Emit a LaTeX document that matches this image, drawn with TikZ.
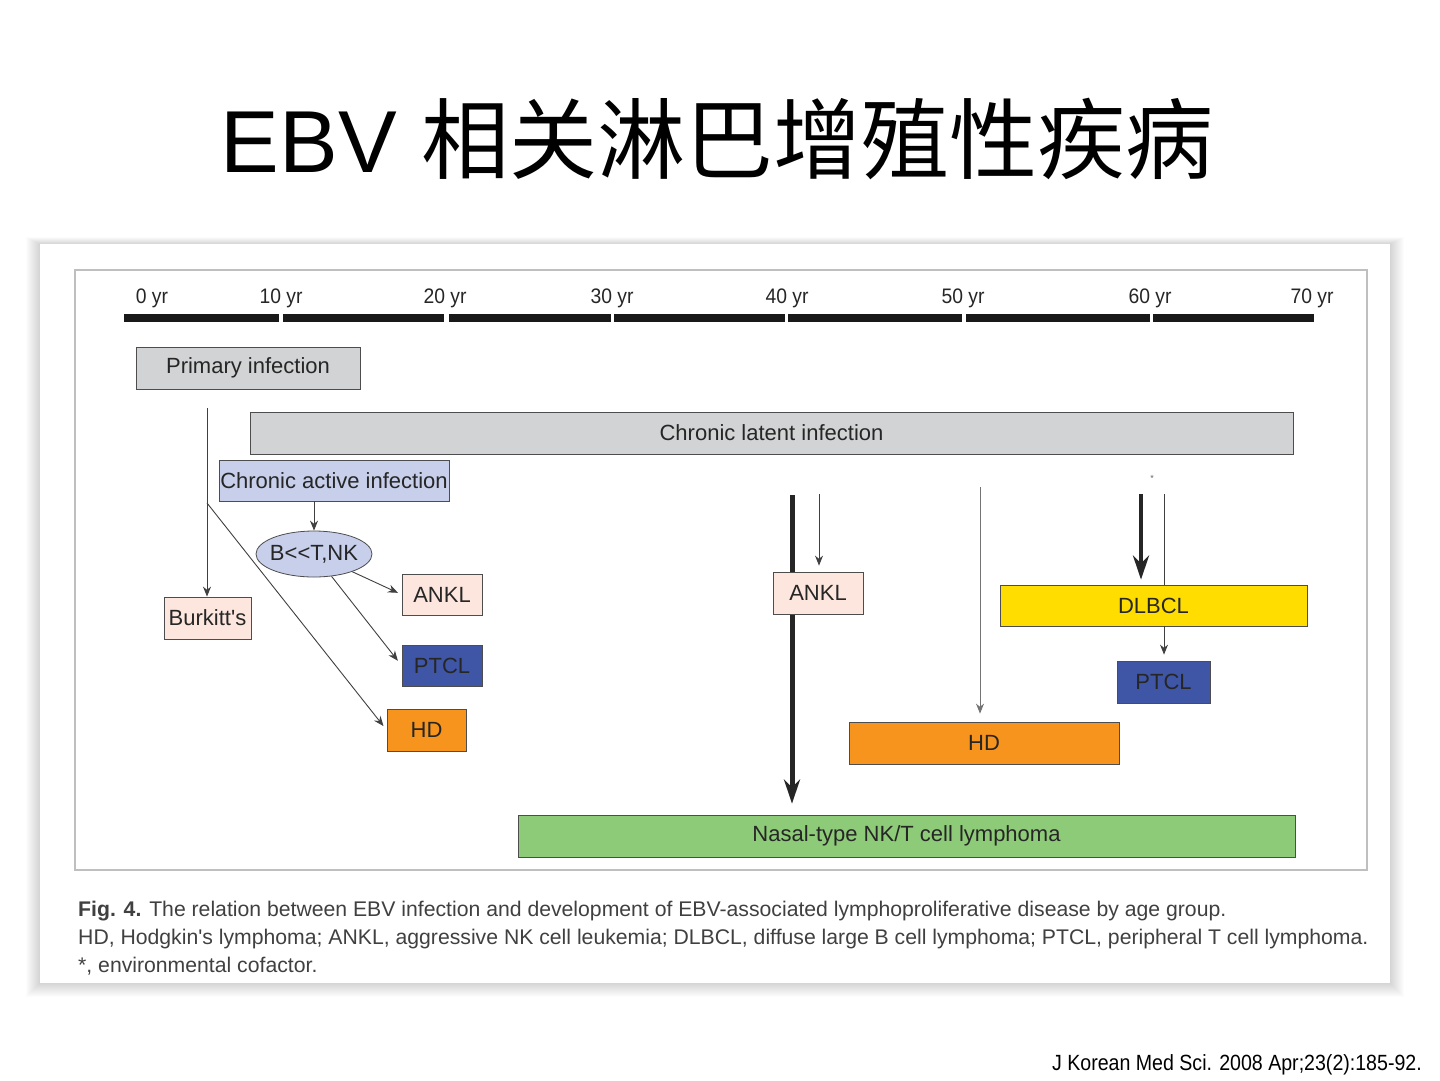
\documentclass[tikz,border=0pt]{standalone}
\usepackage{fontspec}
\setmainfont{Liberation Sans}
\newfontfamily\cjkfont{Noto Sans CJK SC}
\newfontfamily\tickfont{Liberation Sans}[FakeStretch=0.92]
\newfontfamily\narrowfont{Liberation Sans}[FakeStretch=0.89]
\usetikzlibrary{arrows.meta,shapes.geometric}

\definecolor{boxgray}{HTML}{D1D3D4}
\definecolor{lightblue}{HTML}{C7CFEA}
\definecolor{lightpink}{HTML}{FCE6DE}
\definecolor{darkblue}{HTML}{3F56A6}
\definecolor{orangebox}{HTML}{F7941D}
\definecolor{yellowbox}{HTML}{FFDD00}
\definecolor{greenbox}{HTML}{8DCB78}
\definecolor{edgegray}{HTML}{4D4D4D}

\tikzset{%
  every node/.style={
    inner sep=1pt
  },
  lbl/.style={font=\fontsize{22}{24}\selectfont, text=black!85},
  box/.style={lbl, draw=edgegray, line width=0.8pt, minimum height=42pt},
  tick/.style={font=\tickfont\fontsize{21}{23}\selectfont, text=black!85},
  capt/.style={font=\fontsize{21.2}{23}\selectfont, text=black!75},
  link/.style={draw=black!75, line width=0.9pt, -{Stealth[length=10pt,width=8pt]}},
  biglink/.style={draw=black!85, line width=5pt, -{Stealth[length=24pt,width=16pt]}}
}

\begin{document}
\begin{tikzpicture}[x=1pt,y=-1pt]
        \useasboundingbox (0,0) rectangle (1440,1080);
        \fill[white] (0,0) rectangle (1440,1080);
        \node[anchor=base, text=black] (title) at (717,172) {\fontsize{88}{90}\selectfont EBV \cjkfont 相关淋巴增殖性疾病};
        % figure panel
        \foreach \i in {1,...,14}
          \fill[black, opacity=0.012] (40-\i,244-\i/2) rectangle (1390+\i,983+\i);
        \fill[white] (40,244) rectangle (1390,983);
        \draw[black!25, line width=1.5pt] (75,270) rectangle (1367,870);
        % time axis
        \foreach \a/\b in {124/279, 283/444, 449/611, 614/785, 788/962, 966/1150, 1153/1314}
          \fill[black!90] (\a,314) rectangle (\b,322);
        \foreach \x/\t [count=\i] in {152/0, 281/10, 445/20, 612/30, 787/40, 963/50, 1150/60, 1312/70}
          \node[tick, anchor=base] (t\i) at (\x,303) {\t\ yr};
        % boxes
        \node[box, fill=boxgray, minimum width=224pt] (prim) at (248,368) {Primary infection};
        \node[box, fill=boxgray, minimum width=1043pt] (latent) at (771.5,433) {Chronic latent infection};
        \node[box, fill=lightblue, minimum width=230pt, minimum height=41pt] (active) at (334,480.5) {Chronic active infection};
        \node[lbl, ellipse, draw=edgegray, line width=0.8pt, fill=lightblue, minimum width=116pt, minimum height=46pt, inner xsep=-6pt, inner ysep=0pt] (btnk) at (314,554) {B{<}{<}T,NK};
        \node[box, fill=lightpink, minimum width=87pt] (burk) at (207.5,618) {Burkitt\textquotesingle s};
        \node[box, fill=lightpink, minimum width=80pt, minimum height=41pt] (ankl1) at (442,594.5) {ANKL};
        \node[box, fill=darkblue, minimum width=80pt, minimum height=41pt] (ptcl1) at (442,665.5) {PTCL};
        \node[box, fill=orangebox, minimum width=79pt] (hd1) at (426.5,730) {HD};
        \node[box, fill=yellowbox, minimum width=307pt, minimum height=41pt] (dlbcl) at (1153.5,605.5) {DLBCL};
        \node[box, fill=darkblue, minimum width=93pt] (ptcl2) at (1163.5,682) {PTCL};
        \node[box, fill=orangebox, minimum width=270pt] (hd2) at (984,743) {HD};
        \node[box, fill=greenbox, minimum width=777pt] (nasal) at (906.5,836) {Nasal-type NK/T cell lymphoma};
        \node[lbl, font=\fontsize{9}{10}\selectfont, text=black!60] (star) at (1152,478) {*};
        % arrows
        \coordinate (p0) at (207,408);
        \coordinate (br) at (207,503);
        \draw[link] (p0) -- (burk.north -| p0);
        \draw[link, shorten >=5pt] (br) -- (hd1.west);
        \draw[link] (active.south -| btnk) -- (btnk.north);
        \draw[link, shorten >=4pt] (btnk) -- (ankl1.west);
        \draw[link, shorten >=6pt] (btnk) -- (ptcl1.west);
        \coordinate (m0) at (792,495);
        \draw[biglink, shorten >=11pt] (m0) -- (m0 |- nasal.north);
        \node[box, fill=lightpink, minimum width=90pt] (ankl2) at (818,593) {ANKL};
        \coordinate (a0) at (819,494);
        \draw[link, shorten >=6pt] (a0) -- (a0 |- ankl2.north);
        \coordinate (h0) at (980,487);
        \draw[link, draw=black!55, shorten >=8pt] (h0) -- (h0 |- hd2.north);
        \coordinate (d0) at (1141,494);
        \draw[biglink, line width=4.5pt, shorten >=5pt] (d0) -- (d0 |- dlbcl.north);
        \coordinate (e0) at (1164,494);
        \draw[black!75, line width=0.9pt] (e0) -- (e0 |- dlbcl.north);
        \draw[link, shorten >=6pt] (dlbcl.south -| e0) -- (e0 |- ptcl2.north);
        % caption
        \node[capt, anchor=base west] (cap1) at (77,916) {\textbf{Fig. 4.} The relation between EBV infection and development of EBV-associated lymphoproliferative disease by age group.};
        \node[capt, anchor=base west] (cap2) at (77,944) {HD, Hodgkin\textquotesingle s lymphoma; ANKL, aggressive NK cell leukemia; DLBCL, diffuse large B cell lymphoma; PTCL, peripheral T cell lymphoma.};
        \node[capt, anchor=base west] (cap3) at (77,972) {*, environmental cofactor.};
        \node[anchor=base east, text=black, font=\narrowfont\fontsize{22}{24}\selectfont] (src) at (1423,1070) {J Korean Med Sci. 2008 Apr;23(2):185-92.};
      \end{tikzpicture}
\end{document}
